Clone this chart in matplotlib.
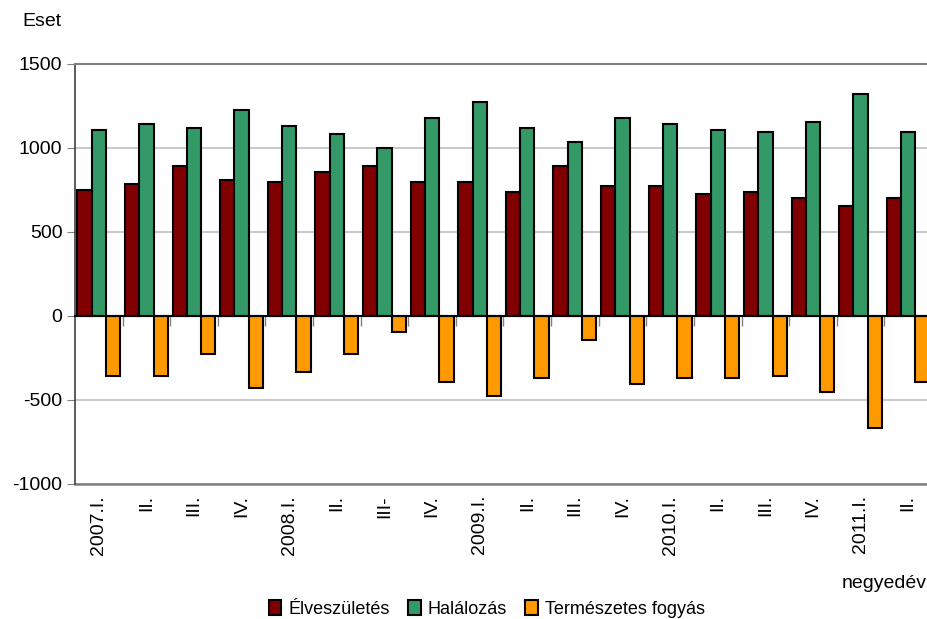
import matplotlib
matplotlib.use("Agg")
import matplotlib.pyplot as plt
import numpy as np

# ── Data ───────────────────────────────────────────────────────────────────────
quarters = ["2007.I.", "II.", "III.", "IV.",
            "2008.I.", "II.", "III-", "IV.",
            "2009.I.", "II.", "III.", "IV.",
            "2010.I.", "II.", "III.", "IV.",
            "2011.I.", "II."]
births = [750, 788, 895, 810, 798, 859, 893, 798, 798, 738, 893, 774,
          774, 726, 738, 702, 655, 702]
deaths = [1107, 1141, 1119, 1226, 1131, 1083, 1000, 1179, 1274, 1119, 1036, 1179,
          1143, 1107, 1095, 1155, 1321, 1095]
natural = [-357, -357, -224, -429, -333, -224, -95, -393, -476, -369, -143, -405,
           -369, -369, -357, -452, -665, -393]
series_names = ["Élveszületés", "Halálozás", "Természetes fogyás"]

# ── Style ──────────────────────────────────────────────────────────────────────
RED    = "#800000"
GREEN  = "#339966"
ORANGE = "#FF9900"
GRID   = "#c0c0c0"
GRAY   = "#808080"

plt.rcParams["font.family"] = ["Liberation Sans", "DejaVu Sans"]
plt.rcParams["axes.unicode_minus"] = False
FS = 14

fig = plt.figure(figsize=(9.27, 6.19), dpi=100)
ax = fig.add_axes([75 / 927, 135 / 619, 857 / 927, 420 / 619])

x = np.arange(len(quarters))
w = 0.3
for off, vals, col, name in [(-w, births, RED, series_names[0]),
                             (0, deaths, GREEN, series_names[1]),
                             (w, natural, ORANGE, series_names[2])]:
    ax.bar(x + off, vals, width=w, color=col, edgecolor="black", linewidth=1.5,
           label=name, zorder=3)

ax.set_xlim(-0.5, len(quarters) - 0.5)
ax.set_ylim(-1000, 1500)
ax.set_yticks(np.arange(-1000, 1501, 500))
ax.tick_params(axis="y", labelsize=FS, length=6, color=GRAY, pad=3)
ax.yaxis.grid(True, color=GRID, linewidth=1.2, zorder=0)

# x axis sits on the zero line, group-boundary ticks pointing down
ax.spines["bottom"].set_position(("data", 0))
ax.spines["bottom"].set_color("black")
ax.spines["bottom"].set_linewidth(1.5)
ax.spines["bottom"].set_zorder(4)
ax.set_xticks(x + 0.5)
ax.set_xticklabels([])
ax.tick_params(axis="x", length=7, color=GRAY, width=1)
ax.spines["left"].set_color("#404040")
ax.spines["left"].set_linewidth(1.2)
ax.spines["top"].set_color(GRAY)
ax.spines["top"].set_linewidth(1.5)
ax.spines["right"].set_visible(False)
ax.axhline(-1000, color=GRAY, linewidth=1.8, zorder=2, clip_on=False)

# quarter labels below the plot area
for i, q in enumerate(quarters):
    ax.text(i, -1065, q, rotation=90, ha="center", va="top", fontsize=FS)

fig.text(22 / 927, 1 - 22 / 619, "Eset", fontsize=FS, ha="left", va="center")
fig.text(927 / 927, 1 - 583 / 619, "negyedév", fontsize=FS, ha="right", va="center")

fig.legend(loc="center", bbox_to_anchor=(487 / 927, 1 - 609 / 619), ncol=3,
           frameon=False, fontsize=FS - 1, handlelength=0.7, handleheight=0.9,
           handletextpad=0.4, columnspacing=1.0)

fig.savefig("out.png", dpi=100)
